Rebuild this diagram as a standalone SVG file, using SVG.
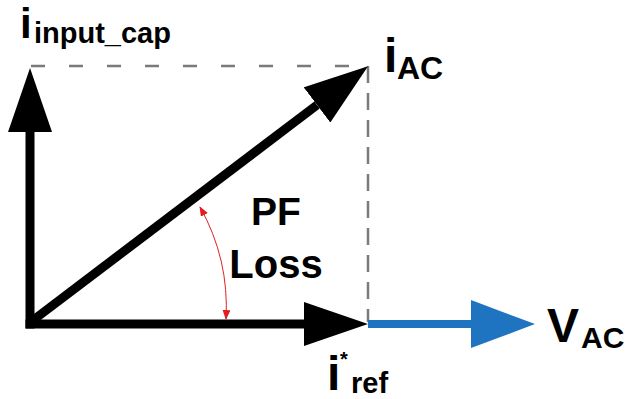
<svg xmlns="http://www.w3.org/2000/svg" width="626" height="399" viewBox="0 0 626 399">
<style>
.lbl{font-family:"Liberation Sans",Arial,sans-serif;font-weight:bold;fill:#000}
.vec{stroke:#000;stroke-width:9;fill:none}
.dash{stroke:#7a7a7a;stroke-width:2.5;fill:none}
</style>
<defs>
<marker id="ahk" markerUnits="userSpaceOnUse" viewBox="0 0 64 44" refX="0" refY="22" markerWidth="64" markerHeight="44" orient="auto">
<path d="M0,0 L64,22 L0,44 Z" fill="#000"/>
</marker>
<marker id="ahb" markerUnits="userSpaceOnUse" viewBox="0 0 64 48" refX="0" refY="24" markerWidth="64" markerHeight="48" orient="auto">
<path d="M0,0 L64,24 L0,48 Z" fill="#1f74c2"/>
</marker>
<marker id="ahr" markerUnits="userSpaceOnUse" viewBox="0 0 10 8" refX="9" refY="4" markerWidth="10" markerHeight="8" orient="auto-start-reverse">
<path d="M0,0 L10,4 L0,8 Z" fill="#e02020"/>
</marker>
</defs>
<g id="guides">
<line class="dash" x1="31" y1="66" x2="368" y2="66" stroke-dasharray="14 24"/>
<line class="dash" x1="368" y1="66" x2="368" y2="322" stroke-dasharray="17 10"/>
</g>
<g id="connectors">
<line class="vec" x1="30" y1="328.5" x2="30" y2="132" marker-end="url(#ahk)"/>
<line class="vec" x1="25.5" y1="324" x2="304" y2="324" marker-end="url(#ahk)"/>
<line class="vec" x1="32" y1="321" x2="317" y2="105" marker-end="url(#ahk)"/>
<line x1="368" y1="324" x2="471" y2="324" stroke="#1f74c2" stroke-width="8" marker-end="url(#ahb)"/>
<path d="M200,207 A205,205 0 0 1 226,319" fill="none" stroke="#e02020" stroke-width="1" marker-start="url(#ahr)" marker-end="url(#ahr)"/>
</g>
<g id="i_input_cap">
<text class="lbl" x="20" y="38" font-size="42">i</text>
<text class="lbl" x="34" y="43" font-size="29">input_cap</text>
</g>
<g id="i_AC">
<text class="lbl" x="384" y="72" font-size="48">i</text>
<text class="lbl" x="397" y="79" font-size="32">AC</text>
</g>
<g id="V_AC">
<text class="lbl" x="547" y="342" font-size="48">V</text>
<text class="lbl" x="581" y="348" font-size="30">AC</text>
</g>
<g id="i_ref">
<text class="lbl" x="327" y="390" font-size="48">i</text>
<text class="lbl" x="340" y="366" font-size="20">*</text>
<text class="lbl" x="351" y="393" font-size="29">ref</text>
</g>
<g id="pf_loss">
<text class="lbl" x="276" y="225" font-size="39" text-anchor="middle">PF</text>
<text class="lbl" x="276" y="278" font-size="40" text-anchor="middle">Loss</text>
</g>
</svg>
